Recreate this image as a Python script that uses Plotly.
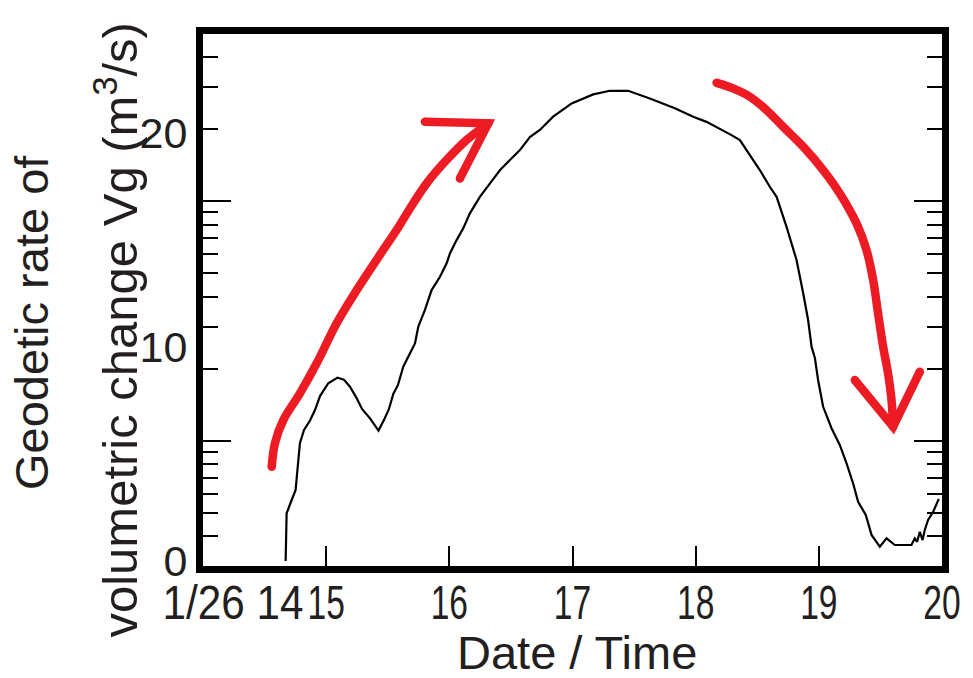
import math
import plotly.graph_objects as go

# Geodetic rate of volumetric change on 26 January (hours of the day)
hours = [14.671, 14.679, 14.720, 14.752, 14.761, 14.774, 14.787, 14.820, 14.869, 14.909,
         14.950, 15.017, 15.092, 15.144, 15.193, 15.248, 15.291, 15.356, 15.425, 15.469,
         15.510, 15.545, 15.583, 15.626, 15.680, 15.721, 15.748, 15.802, 15.856, 15.924,
         15.978, 16.005, 16.059, 16.113, 16.167, 16.248, 16.330, 16.412, 16.492, 16.573,
         16.654, 16.735, 16.843, 16.993, 17.168, 17.304, 17.452, 17.628, 17.831, 17.980,
         18.088, 18.196, 18.291, 18.359, 18.440, 18.521, 18.602, 18.657, 18.738, 18.819,
         18.873, 18.913, 18.941, 18.968, 18.994, 19.035, 19.103, 19.170, 19.225, 19.278,
         19.319, 19.381, 19.428, 19.495, 19.550, 19.617, 19.752, 19.779, 19.798, 19.820,
         19.842, 19.860, 19.887, 19.928, 19.974]
vg = [0.0, 2.23, 2.85, 3.32, 3.90, 4.72, 5.50, 6.12, 6.56, 7.05,
      7.70, 8.30, 8.56, 8.47, 8.14, 7.60, 7.10, 6.66, 6.09, 6.58,
      7.10, 7.80, 8.22, 9.07, 9.70, 10.16, 10.94, 11.72, 12.65, 13.27,
      13.90, 14.36, 14.98, 15.53, 16.23, 17.00, 17.63, 18.25, 18.72, 19.18,
      19.79, 20.12, 20.74, 21.36, 21.78, 21.95, 21.95, 21.59, 21.13, 20.74,
      20.50, 20.19, 19.88, 19.65, 18.95, 18.25, 17.47, 17.00, 15.60, 14.05,
      12.50, 11.25, 10.00, 9.48, 8.45, 7.20, 6.20, 5.42, 4.56, 3.63,
      2.77, 2.15, 1.22, 0.67, 1.06, 0.75, 0.75, 1.06, 0.90, 1.37,
      0.98, 1.45, 1.92, 2.30, 2.90]

# Hand-drawn trend arrows (hour, value)
rise_h = [14.558, 14.584, 14.652, 14.787, 14.923, 15.085, 15.248, 15.463, 15.572, 15.707,
          15.816, 15.978, 16.140, 16.316]
rise_v = [4.40, 5.50, 6.58, 7.83, 9.23, 11.10, 12.65, 14.52, 15.45, 16.70,
          17.63, 18.72, 19.65, 20.43]
rise_head_h = [15.802, 16.316, 16.086]
rise_head_v = [20.50, 20.43, 17.86]

fall_h = [18.170, 18.304, 18.440, 18.575, 18.710, 18.873, 19.035, 19.170, 19.306, 19.387,
          19.441, 19.481, 19.522, 19.562, 19.590, 19.603]
fall_v = [22.32, 22.06, 21.67, 21.05, 20.27, 19.34, 18.25, 17.16, 15.76, 14.52,
          13.12, 11.56, 10.00, 8.76, 7.52, 6.27]
fall_head_h = [19.292, 19.603, 19.820]
fall_head_v = [8.45, 6.27, 8.84]

# Axis labelling
x_tickvals = [15, 16, 17, 18, 19, 20]
x_ticktext = ["15", "16", "17", "18", "19", "20"]
start_label = "1/26 14"
start_label_at = 14.245
y_tickvals = [0, 10, 20]
log_major = [1, 10]
log_minor = [0.4, 0.5, 0.6, 0.7, 0.8, 0.9, 2, 3, 4, 5, 6, 7, 8, 9, 20, 30, 40]

INK = "#231F20"
RED = "#ED1C24"
SANS = "Liberation Sans, Arial, Helvetica, sans-serif"

fig = go.Figure()

fig.add_trace(go.Scatter(x=hours, y=vg, mode="lines",
                         line=dict(color="black", width=2.2),
                         hoverinfo="skip", showlegend=False))

for xs, ys, shape in [(rise_h, rise_v, "spline"), (rise_head_h, rise_head_v, "linear"),
                      (fall_h, fall_v, "spline"), (fall_head_h, fall_head_v, "linear")]:
    fig.add_trace(go.Scatter(x=xs, y=ys, mode="lines", line=dict(color=RED, width=8.5, shape=shape),
                             hoverinfo="skip", showlegend=False))
    ends = [0, len(xs) - 1]
    fig.add_trace(go.Scatter(x=[xs[i] for i in ends], y=[ys[i] for i in ends], mode="markers",
                             marker=dict(color=RED, size=8.5, line=dict(width=0)),
                             hoverinfo="skip", showlegend=False))

# empty trace so the logarithmic tick-mark axis is drawn
fig.add_trace(go.Scatter(x=[], y=[], yaxis="y2", hoverinfo="skip", showlegend=False))

fig.update_layout(
    width=973, height=678,
    margin=dict(l=203, r=31, t=34, b=112),
    plot_bgcolor="white", paper_bgcolor="white",
    showlegend=False,
    xaxis=dict(range=[14, 20], showline=True, linecolor="black", linewidth=7, mirror=True,
               ticks="inside", ticklen=20, tickwidth=2, tickcolor="black",
               tickvals=x_tickvals, ticktext=x_ticktext, tickangle=0,
               tickfont=dict(family=SANS, size=48, color=INK), automargin=False,
               showgrid=False, zeroline=False),
    yaxis=dict(range=[-0.23, 24.6], showline=True, linecolor="black", linewidth=7, mirror=True,
               ticks="", tickvals=y_tickvals, automargin=False,
               tickfont=dict(family=SANS, size=43, color=INK),
               showgrid=False, zeroline=False),
    yaxis2=dict(overlaying="y", type="log", range=[math.log10(0.3), math.log10(50)],
                showline=False, showticklabels=False, showgrid=False, zeroline=False,
                automargin=False,
                ticks="inside", ticklen=28, tickwidth=2, tickcolor="black",
                tickvals=log_major, mirror="allticks",
                minor=dict(ticks="inside", ticklen=15, tickwidth=2, tickcolor="black",
                           tickvals=log_minor, showgrid=False)),
)

fig.add_annotation(text=start_label, x=start_label_at, xref="x", y=-0.0695, yref="paper",
                   xanchor="center", yanchor="middle", showarrow=False,
                   font=dict(family=SANS, size=48, color=INK))
fig.add_annotation(text="Date / Time", x=0.5, xref="paper", y=-0.163, yref="paper",
                   xanchor="center", yanchor="middle", xshift=4, showarrow=False,
                   font=dict(family=SANS, size=47, color=INK))
fig.add_annotation(text="Geodetic rate of", x=-0.232, xref="paper", y=0.4577, yref="paper",
                   xanchor="center", yanchor="middle", textangle=-90, showarrow=False,
                   font=dict(family=SANS, size=47, color=INK))
fig.add_annotation(text="volumetric change Vg (m<sup>3</sup>/s)", x=-0.117, xref="paper",
                   y=0.4436, yref="paper", xanchor="center", yanchor="middle",
                   textangle=-90, showarrow=False,
                   font=dict(family=SANS, size=49, color=INK))

# The time labels are set in a condensed face: narrow each label group about its own centre
# (only the label groups, not the tick-mark paths that share the class name).
condense_labels = """
var s = document.createElement('style');
s.textContent = 'g.xtick { transform-box: fill-box; transform-origin: center; '
              + 'transform: translateY(-12px) scaleX(0.7); } '
              + '.annotation[data-index="0"] .annotation-text { transform-box: fill-box; '
              + 'transform-origin: center; transform: scaleX(0.88); }';
document.head.appendChild(s);
"""

fig.write_html("out.html", post_script=condense_labels)
